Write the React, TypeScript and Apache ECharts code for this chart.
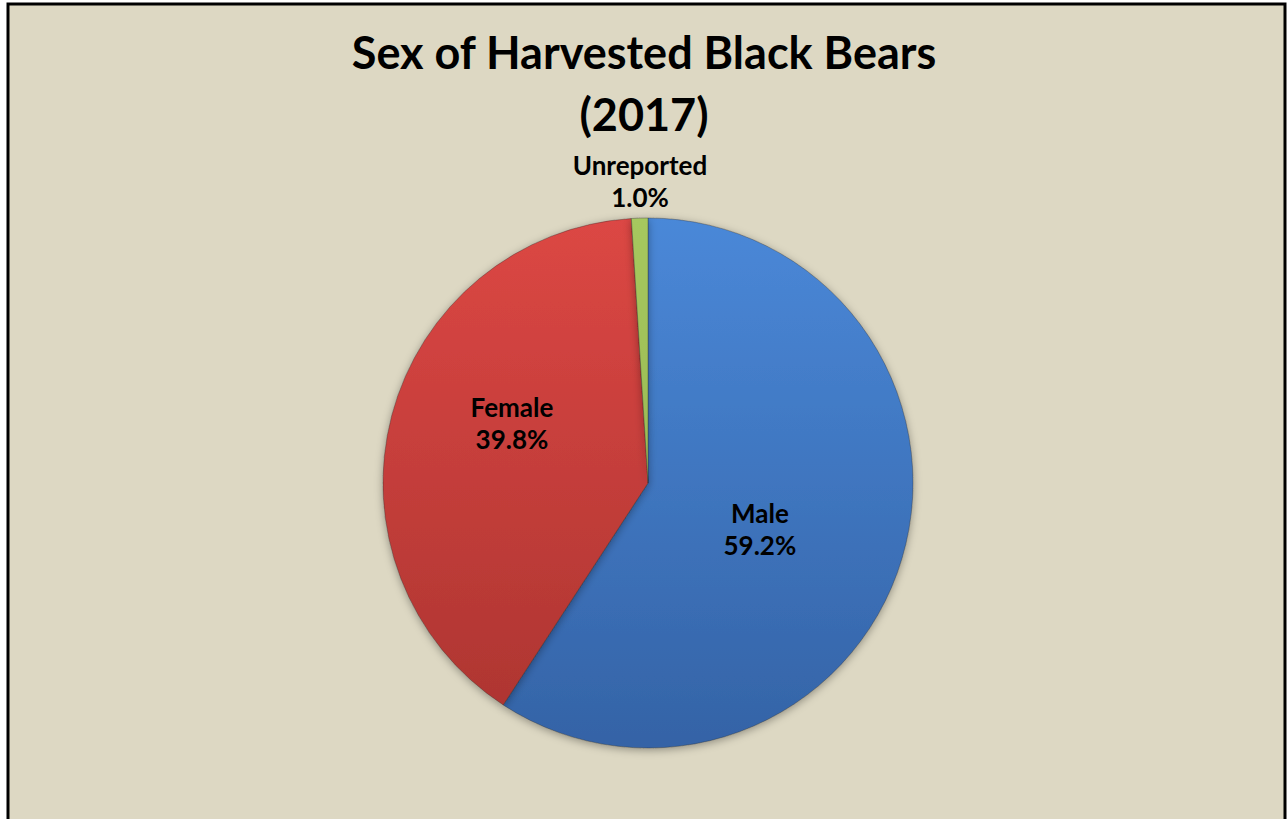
import React, { useEffect, useRef } from "react";
import * as echarts from "echarts";

const categories = ["Male", "Female", "Unreported"];
const percentages = [59.2, 39.8, 1.0];
const titleLines = ["Sex of Harvested Black Bears", "(2017)"];

const W = 1288;
const H = 819;
const CX = 648;
const CY = 483;
const R = 265;

const grad = (top: string, bottom: string) => ({
  type: "linear",
  x: CX,
  y: CY - R,
  x2: CX,
  y2: CY + R,
  global: true,
  colorStops: [
    { offset: 0, color: top },
    { offset: 1, color: bottom },
  ],
});

const colors = [
  grad("#4a88d8", "#3463a6"),
  grad("#dc4744", "#ab3430"),
  grad("#a6c85e", "#8fae4c"),
];

export default function App() {
  const ref = useRef<HTMLDivElement>(null);
  useEffect(() => {
    const chart = echarts.init(ref.current!, null, { renderer: "svg" });
    chart.setOption({
      animation: false,
      backgroundColor: "#ffffff",
      graphic: [
        {
          type: "rect",
          z: -10,
          silent: true,
          shape: { x: 8, y: 4, width: 1277, height: 840 },
          style: { fill: "#ddd8c3", stroke: "#000", lineWidth: 3 },
        },
      ],
      title: {
        text: titleLines.join("\n"),
        left: "center",
        top: 16,
        textStyle: {
          fontFamily: "Lato",
          fontWeight: "bold",
          fontSize: 45,
          lineHeight: 62,
          color: "#000",
        },
      },
      series: [
        {
          type: "pie",
          center: [CX, CY],
          radius: [0, R],
          startAngle: 90,
          clockwise: true,
          avoidLabelOverlap: false,
          data: categories.map((c, i) => ({
            name: c,
            value: percentages[i],
            itemStyle: { color: colors[i] },
            label:
              i === 2
                ? { position: "outside" }
                : { position: "inside" },
            labelLine: { show: false },
          })),
          itemStyle: {
            borderColor: "rgba(40,40,40,0.35)",
            borderWidth: 1,
            shadowBlur: 8,
            shadowColor: "rgba(0,0,0,0.35)",
            shadowOffsetY: 2,
          },
          label: {
            show: true,
            formatter: (p: any) => `${p.name}\n${p.value.toFixed(1)}%`,
            fontFamily: "Lato",
            fontWeight: "bold",
            fontSize: 26,
            lineHeight: 32,
            color: "#000",
            align: "center",
          },
          labelLayout: (params: any) => {
            if (params.dataIndex === 0) return { dx: -18, dy: 7 };
            if (params.dataIndex === 1) return { dx: -5, dy: -25 };
            return { x: CX - 8, y: CY - R - 37, align: "center", verticalAlign: "middle" };
          },
        },
      ],
    });
    return () => chart.dispose();
  }, []);
  return (
    <div
      ref={ref}
      style={{ position: "absolute", left: 0, top: 0, width: W, height: H }}
    />
  );
}
